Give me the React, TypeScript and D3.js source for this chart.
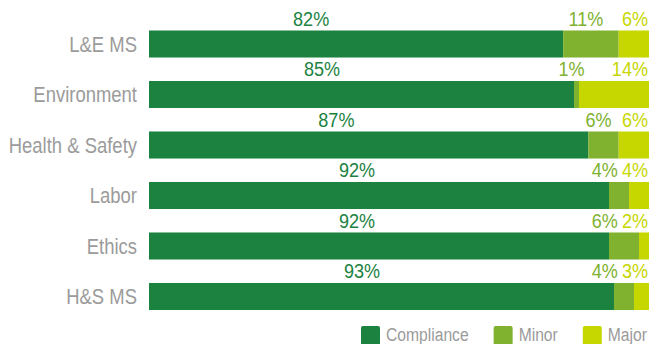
import React, { useEffect, useRef } from "react";
import * as d3 from "d3";

const categories = ["L&E MS", "Environment", "Health & Safety", "Labor", "Ethics", "H&S MS"];
const compliance = [82, 85, 87, 92, 92, 93];
const minor = [11, 1, 6, 4, 6, 4];
const major = [6, 14, 6, 4, 2, 3];
const seriesNames = ["Compliance", "Minor", "Major"];
const seriesColors = ["#1b823f", "#80b12f", "#c6d700"];

const FONT = "'Liberation Sans', Arial, Helvetica, sans-serif";

export default function App() {
  const ref = useRef<SVGSVGElement>(null);

  useEffect(() => {
    const svg = d3.select(ref.current);
    svg.selectAll("*").remove();

    const x = d3.scaleLinear().domain([0, 1]).range([149, 649]);
    const y = d3
      .scaleBand<string>()
      .domain(categories)
      .range([30.5, 310])
      .paddingInner(0.465)
      .paddingOuter(0);
    const bw = y.bandwidth();

    const rows = categories.map((c, i) => ({
      cat: c,
      Compliance: compliance[i],
      Minor: minor[i],
      Major: major[i],
    }));
    const stacked = d3.stack<any>().keys(seriesNames).offset(d3.stackOffsetExpand)(rows);

    const addText = (
      g: any,
      tx: number,
      ty: number,
      str: string,
      size: number,
      sx: number,
      anchor: string,
      fill: string
    ) => {
      const t = g
        .append("text")
        .attr("transform", `translate(${tx},${ty}) scale(${sx},1)`)
        .attr("text-anchor", anchor)
        .attr("font-family", FONT)
        .attr("font-size", size)
        .attr("fill", fill)
        .text(str);
      return t;
    };

    // bars
    svg
      .append("g")
      .selectAll("g")
      .data(stacked)
      .join("g")
      .attr("fill", (_d: any, i: number) => seriesColors[i])
      .selectAll("rect")
      .data((d: any) => d)
      .join("rect")
      .attr("x", (d: any) => x(d[0]))
      .attr("y", (d: any) => y(d.data.cat)!)
      .attr("width", (d: any) => x(d[1]) - x(d[0]))
      .attr("height", bw);

    // category labels
    const yl = svg.append("g");
    categories.forEach((c) => {
      addText(yl, 137, y(c)! + bw / 2 + 7.9, c, 22, 0.84, "end", "#9b9b9b");
    });

    // value labels
    const vl = svg.append("g");
    const VS = 21;
    const VX = 0.86;
    categories.forEach((c, i) => {
      const base = y(c)! - 4.5;
      const cEnd = x(stacked[0][i][1]);
      addText(vl, cEnd - 252, base, `${compliance[i]}%`, VS, VX, "middle", seriesColors[0]);

      const majT = addText(vl, 648, base, `${major[i]}%`, VS, VX, "end", seriesColors[2]);
      const wMaj = (majT.node() as SVGTextElement).getComputedTextLength() * VX;
      const majStart = 648 - wMaj;

      const minT = addText(vl, 0, base, `${minor[i]}%`, VS, VX, "end", seriesColors[1]);
      const wMin = (minT.node() as SVGTextElement).getComputedTextLength() * VX;
      const mid = (x(stacked[1][i][0]) + x(stacked[1][i][1])) / 2 - 5;
      const end = Math.min(mid + wMin / 2, majStart - 4);
      minT.attr("transform", `translate(${end},${base}) scale(${VX},1)`);
    });

    // legend
    const lg = svg.append("g");
    let lx = 361;
    seriesNames.forEach((s, i) => {
      lg.append("rect")
        .attr("x", lx)
        .attr("y", 326)
        .attr("width", 19)
        .attr("height", 19)
        .attr("rx", 2)
        .attr("fill", seriesColors[i]);
      const t = addText(lg, lx + 25, 341, s, 18, 0.87, "start", "#9b9b9b");
      const w = (t.node() as SVGTextElement).getComputedTextLength() * 0.87;
      lx = lx + 25 + w + 25;
    });
  }, []);

  return (
    <div style={{ position: "absolute", left: 0, top: 0 }}>
      <svg ref={ref} width={649} height={344} style={{ display: "block" }} />
    </div>
  );
}
